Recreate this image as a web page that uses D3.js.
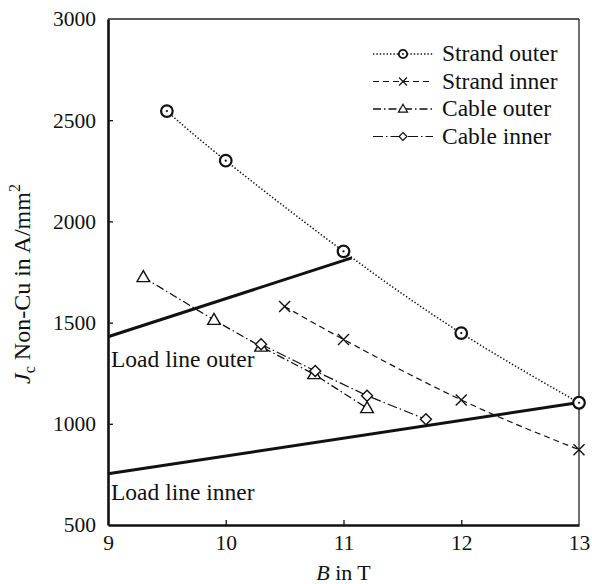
<!DOCTYPE html>
<html>
<head>
<meta charset="utf-8">
<script src="https://cdn.jsdelivr.net/npm/d3@7/dist/d3.min.js"></script>
<style>
  html, body { margin: 0; padding: 0; background: #fff; }
  svg { display: block; }
  text { font-family: "Liberation Serif", "Times New Roman", serif; fill: #111; }
</style>
</head>
<body>
<svg id="chart" width="592" height="584"></svg>
<script>
// Critical current density vs. field, with magnet load lines
const strandOuterB = [9.5, 10, 11, 12, 13];
const strandOuterJ = [2545, 2300, 1852, 1448, 1104];

const strandInnerB = [10.5, 11, 12, 13];
const strandInnerJ = [1580, 1417, 1118, 872];

const cableOuterB = [9.3, 9.9, 10.3, 10.75, 11.2];
const cableOuterJ = [1724, 1513, 1381, 1245, 1077];

const cableInnerB = [10.3, 10.76, 11.2, 11.7];
const cableInnerJ = [1393, 1261, 1139, 1022];

const loadOuterB = [9, 11.07];
const loadOuterJ = [1430, 1820];
const loadInnerB = [9, 13];
const loadInnerJ = [753, 1105];

const xTicks = [9, 10, 11, 12, 13];
const yTicks = [500, 1000, 1500, 2000, 2500, 3000];
const seriesNames = ["Strand outer", "Strand inner", "Cable outer", "Cable inner"];

const margin = { left: 108, right: 13, top: 19, bottom: 59 };
const W = 592, H = 584;
const svg = d3.select("#chart");
const serif = "'Liberation Serif', 'Times New Roman', serif";

const x = d3.scaleLinear().domain([9, 13]).range([margin.left, W - margin.right]);
const y = d3.scaleLinear().domain([500, 3000]).range([H - margin.bottom, margin.top]);

const series = [
  { name: seriesNames[0], B: strandOuterB, J: strandOuterJ, dash: "1.4,2", width: 1.5, marker: "circle", curve: d3.curveNatural },
  { name: seriesNames[1], B: strandInnerB, J: strandInnerJ, dash: "6,4", width: 1.2, marker: "cross", curve: d3.curveNatural },
  { name: seriesNames[2], B: cableOuterB, J: cableOuterJ, dash: "8,3,1.5,3", width: 1.3, marker: "triangle", curve: d3.curveLinear },
  { name: seriesNames[3], B: cableInnerB, J: cableInnerJ, dash: "10,3,1.5,3", width: 1.2, marker: "diamond", curve: d3.curveLinear }
];

// frame: thin top/right, heavy left/bottom
const x0 = x(9), x1 = x(13), y0 = y(500), y1 = y(3000);
svg.append("line").attr("x1", x0).attr("x2", x1).attr("y1", y1).attr("y2", y1)
  .attr("stroke", "#222").attr("stroke-width", 1.3);
svg.append("line").attr("x1", x1).attr("x2", x1).attr("y1", y1).attr("y2", y0)
  .attr("stroke", "#222").attr("stroke-width", 1.3);

// axes
const xAxis = d3.axisBottom(x).tickValues(xTicks).tickFormat(d3.format("d"))
  .tickSizeInner(-5).tickSizeOuter(0).tickPadding(10);
const yAxis = d3.axisLeft(y).tickValues(yTicks).tickFormat(d3.format("d"))
  .tickSizeInner(-5).tickSizeOuter(0).tickPadding(12);

const gx = svg.append("g").attr("transform", `translate(0,${y0})`).call(xAxis);
const gy = svg.append("g").attr("transform", `translate(${x0},0)`).call(yAxis);
[gx, gy].forEach(g => {
  g.attr("font-family", serif).attr("font-size", 21.5);
  g.select(".domain").attr("stroke", "#111").attr("stroke-width", 2.6);
  g.selectAll(".tick line").attr("stroke", "#111").attr("stroke-width", 1.3);
  g.selectAll(".tick text").attr("fill", "#111");
});
gx.selectAll(".tick text").attr("dy", "0.72em");
gx.selectAll(".tick").filter(d => d === 9 || d === 13).select("line").remove();
gy.selectAll(".tick").filter(d => d === 500 || d === 3000).select("line").remove();

// load lines
const lineGen = d3.line().x(d => x(d[0])).y(d => y(d[1]));
svg.append("path").datum(d3.zip(loadOuterB, loadOuterJ)).attr("d", lineGen)
  .attr("fill", "none").attr("stroke", "#111").attr("stroke-width", 3);
svg.append("path").datum(d3.zip(loadInnerB, loadInnerJ)).attr("d", lineGen)
  .attr("fill", "none").attr("stroke", "#111").attr("stroke-width", 3);

svg.append("text").attr("x", 111).attr("y", 367).attr("font-size", 23.5).text("Load line outer");
svg.append("text").attr("x", 111).attr("y", 500).attr("font-size", 23.5).text("Load line inner");

// marker shapes, centred at the origin
function drawMarker(g, type, s, big) {
  const sw = big ? 1.4 : 1.2;
  if (type === "circle") {
    g.append("circle").attr("r", s).attr("fill", "#fff").attr("stroke", "#111").attr("stroke-width", big ? 2.2 : 1.8);
    g.append("circle").attr("r", big ? 1.1 : 0.9).attr("fill", "#111");
  } else if (type === "cross") {
    g.append("path").attr("d", `M${-s},${-s}L${s},${s}M${-s},${s}L${s},${-s}`)
      .attr("stroke", "#111").attr("stroke-width", sw).attr("fill", "none");
  } else if (type === "triangle") {
    const h = s * 1.75;
    g.append("path").attr("d", `M0,${-h * 0.6}L${s},${h * 0.4}L${-s},${h * 0.4}Z`)
      .attr("stroke", "#111").attr("stroke-width", sw).attr("fill", "#fff");
  } else if (type === "diamond") {
    g.append("path").attr("d", `M0,${-s}L${s},0L0,${s}L${-s},0Z`)
      .attr("stroke", "#111").attr("stroke-width", sw).attr("fill", "#fff");
  }
}

const sizes = { circle: 5.8, cross: 5.5, triangle: 6.3, diamond: 5.5 };

series.forEach(s => {
  const pts = d3.zip(s.B, s.J);
  svg.append("path").datum(pts)
    .attr("d", d3.line().x(d => x(d[0])).y(d => y(d[1])).curve(s.curve))
    .attr("fill", "none").attr("stroke", "#111").attr("stroke-width", s.width)
    .attr("stroke-dasharray", s.dash);
  pts.forEach(p => {
    const g = svg.append("g").attr("transform", `translate(${x(p[0])},${y(p[1])})`);
    drawMarker(g, s.marker, sizes[s.marker], true);
  });
});

// legend
const legX0 = 373, legX1 = 433, legMark = 403, legText = 442;
const legY = [61, 88.5, 116, 143.5];
series.forEach((s, i) => {
  const yy = legY[i] - 7;
  svg.append("line").attr("x1", legX0).attr("x2", legX1).attr("y1", yy).attr("y2", yy)
    .attr("stroke", "#111").attr("stroke-width", s.width).attr("stroke-dasharray", s.dash);
  const g = svg.append("g").attr("transform", `translate(${legMark},${yy})`);
  drawMarker(g, s.marker, sizes[s.marker] * 0.72, false);
  svg.append("text").attr("x", legText).attr("y", legY[i]).attr("font-size", 23.5).text(s.name);
});

// axis titles
const xt = svg.append("text").attr("x", (x0 + x1) / 2).attr("y", 580)
  .attr("text-anchor", "middle").attr("font-size", 22);
xt.append("tspan").attr("font-style", "italic").text("B");
xt.append("tspan").text(" in T");

const yt = svg.append("text").attr("transform", `translate(30,${(y0 + y1) / 2 + 12}) rotate(-90)`)
  .attr("text-anchor", "middle").attr("font-size", 24);
yt.append("tspan").attr("font-style", "italic").text("J");
yt.append("tspan").attr("font-size", 16).attr("dy", 5).text("c");
yt.append("tspan").attr("dy", -5).text(" Non-Cu in A/mm");
yt.append("tspan").attr("font-size", 16).attr("dy", -10).text("2");
</script>
</body>
</html>
